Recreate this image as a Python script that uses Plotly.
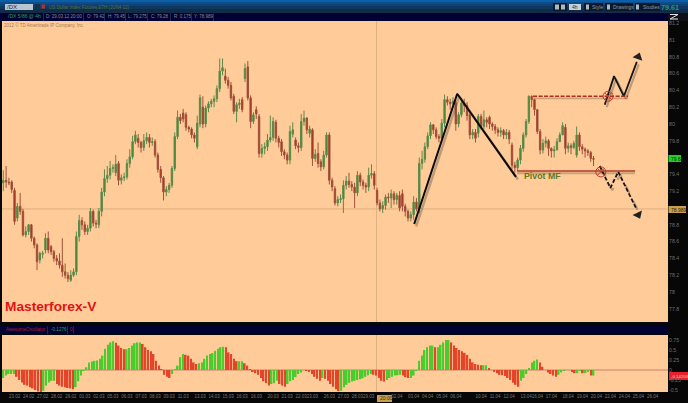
import plotly.graph_objects as go
from plotly.subplots import make_subplots

opens = [
79.30,79.33,79.31,79.31,79.21,78.88,79.02,78.96,78.68,78.72,
78.80,78.64,78.56,78.38,78.45,78.50,78.64,78.54,78.48,78.40,
78.37,78.32,78.24,78.20,78.14,78.20,78.24,78.66,78.85,78.80,
78.72,78.76,78.96,78.82,78.80,78.96,79.19,79.35,79.39,79.47,
79.42,79.53,79.33,79.36,79.37,79.53,79.61,79.79,79.83,79.78,
79.72,79.80,79.84,79.78,79.79,79.63,79.46,79.36,79.19,79.22,
79.27,79.47,79.85,80.08,80.13,80.11,79.96,79.94,79.87,79.73,
80.00,80.20,80.00,80.19,80.24,80.27,80.30,80.42,80.63,80.57,80.52,
80.46,80.33,80.15,80.23,80.29,80.54,80.68,80.31,80.03,
80.17,80.09,79.65,79.71,79.73,79.81,79.84,80.02,79.83,79.79,
79.67,79.63,79.57,79.88,79.81,79.74,79.72,80.03,80.07,
79.89,79.93,79.59,79.65,79.55,79.49,79.63,79.87,79.33,
79.23,79.06,79.10,79.11,79.27,79.32,79.28,79.25,79.18,79.39,
79.31,79.27,79.25,79.39,79.41,79.21,79.06,78.99,79.03,79.13,
79.12,79.17,79.10,79.15,79.17,79.02,78.96,78.88,78.92,79.07,
78.99,79.53,79.58,79.73,79.86,79.99,79.93,79.85,79.83,80.01,80.29,
80.26,80.24,80.25,80.00,80.11,80.25,80.22,80.11,79.87,79.90,
79.89,80.09,79.97,80.05,80.08,80.00,79.97,79.93,79.90,79.92,
79.87,79.90,79.75,79.51,79.48,79.57,79.71,79.87,80.03,80.33,
80.29,80.17,79.91,79.69,79.77,79.80,79.71,79.68,79.69,79.79,
79.87,79.96,79.71,79.74,79.72,79.63,79.87,79.73,79.70,79.68,
79.66,79.59]
highs = [
79.45,79.50,79.36,79.33,79.24,79.06,79.18,78.99,78.78,78.81,
78.81,78.66,78.58,78.48,78.49,78.70,78.72,78.56,78.50,78.44,
78.46,78.64,78.34,78.24,78.26,78.28,78.72,78.92,78.89,78.84,
78.80,79.00,78.98,78.86,79.00,79.24,79.46,79.50,79.56,79.52,
79.63,79.56,79.40,79.42,79.58,79.70,79.86,79.92,79.88,79.80,
79.88,79.90,79.88,79.84,79.82,79.66,79.50,79.38,79.26,79.30,
79.50,79.90,80.16,80.12,80.18,80.14,79.98,79.96,79.90,80.10,
80.35,80.33,80.22,80.27,80.30,80.34,80.46,80.78,80.78,80.66,80.56,
80.50,80.36,80.26,80.30,80.32,80.72,80.75,80.34,80.14,
80.21,80.12,79.76,79.78,79.88,80.10,80.08,80.05,79.86,79.82,
79.70,79.66,79.98,80.02,79.84,79.78,80.12,80.16,80.08,
79.98,79.95,79.70,79.78,79.58,79.68,79.90,79.90,79.36,
79.26,79.14,79.16,79.33,79.38,79.42,79.32,79.30,79.44,79.42,
79.34,79.30,79.48,79.52,79.44,79.24,79.10,79.08,79.16,79.18,
79.22,79.20,79.18,79.20,79.22,79.05,78.98,78.96,79.14,79.12,
79.60,79.68,79.78,79.90,80.02,80.00,79.96,79.88,80.06,80.35,80.33,
80.30,80.32,80.28,80.14,80.30,80.30,80.26,80.14,79.94,79.94,
80.12,80.12,80.16,80.08,80.10,80.02,80.00,79.96,79.96,79.94,
79.94,79.93,79.78,79.55,79.60,79.75,79.90,80.06,80.34,80.34,
80.30,80.18,79.94,79.82,79.85,79.82,79.72,79.74,79.83,79.90,
80.02,80.00,79.78,79.77,79.80,79.97,79.90,79.76,79.72,79.70,
79.68,79.62]
lows = [
79.20,79.24,79.27,79.18,78.80,78.84,78.92,78.66,78.65,78.68,
78.60,78.52,78.26,78.34,78.40,78.46,78.46,78.44,78.36,78.32,
78.28,78.18,78.16,78.12,78.12,78.18,78.20,78.60,78.74,78.68,
78.68,78.72,78.78,78.76,78.76,78.90,79.14,79.30,79.34,79.42,
79.38,79.27,79.28,79.32,79.34,79.48,79.58,79.76,79.72,79.66,
79.68,79.76,79.72,79.74,79.60,79.42,79.30,79.09,79.14,79.18,
79.24,79.44,79.82,80.00,80.02,79.92,79.90,79.83,79.78,79.70,
79.96,79.95,79.96,80.14,80.20,80.20,80.26,80.38,80.58,80.48,80.42,
80.28,80.12,80.02,80.18,80.14,80.50,80.28,79.95,80.00,
80.06,79.60,79.60,79.64,79.68,79.78,79.80,79.78,79.72,79.62,
79.58,79.52,79.52,79.84,79.70,79.66,79.68,79.98,79.88,
79.84,79.50,79.55,79.48,79.44,79.46,79.60,79.28,79.20,
79.03,79.02,79.06,78.94,79.22,79.24,79.20,79.00,79.14,79.26,
79.22,79.18,79.20,79.35,79.22,79.03,78.96,78.94,78.98,79.06,
79.00,79.04,79.04,78.96,78.96,78.90,78.84,78.84,78.86,78.96,
78.94,79.46,79.54,79.70,79.82,79.88,79.82,79.78,79.78,79.96,80.22,
80.17,80.20,79.92,79.96,80.08,80.14,80.04,79.82,79.82,79.78,
79.84,79.93,79.94,79.96,79.94,79.92,79.88,79.85,79.85,79.82,
79.82,79.76,79.46,79.42,79.44,79.52,79.67,79.84,80.00,80.20,
80.10,79.88,79.64,79.65,79.72,79.62,79.60,79.60,79.70,79.82,
79.94,79.64,79.66,79.64,79.70,79.60,79.68,79.64,79.60,79.62,
79.55,79.50]
closes = [
79.33,79.31,79.30,79.22,78.84,79.02,78.96,78.68,78.72,78.80,
78.64,78.56,78.36,78.46,78.46,78.64,78.50,78.48,78.40,78.37,
78.32,78.24,78.20,78.16,78.20,78.24,78.66,78.85,78.80,78.72,
78.76,78.96,78.82,78.81,78.96,79.19,79.35,79.39,79.47,79.48,
79.52,79.33,79.36,79.37,79.53,79.61,79.79,79.87,79.78,79.72,
79.80,79.84,79.78,79.79,79.63,79.46,79.36,79.19,79.22,79.27,
79.47,79.85,80.08,80.04,80.06,79.96,79.94,79.87,79.83,80.01,
80.31,80.00,80.19,80.24,80.27,80.30,80.42,80.63,80.67,80.52,80.46,
80.31,80.15,80.23,80.25,80.17,80.66,80.31,80.03,80.11,
80.12,79.65,79.71,79.73,79.81,79.84,80.03,79.83,79.78,79.67,
79.63,79.57,79.91,79.93,79.74,79.72,80.03,80.07,79.93,
79.94,79.59,79.64,79.53,79.49,79.63,79.87,79.33,79.25,
79.06,79.10,79.11,79.27,79.32,79.28,79.25,79.18,79.39,79.31,
79.27,79.25,79.39,79.41,79.27,79.06,78.99,79.03,79.13,79.12,
79.17,79.10,79.15,79.00,79.02,78.96,78.88,78.92,79.07,78.99,
79.53,79.58,79.73,79.86,79.99,79.93,79.85,79.83,80.01,80.29,80.26,
80.24,80.27,80.00,80.11,80.25,80.22,80.10,79.87,79.90,79.83,
80.09,79.97,80.05,80.02,80.00,79.97,79.93,79.90,79.92,79.87,
79.90,79.82,79.51,79.48,79.57,79.71,79.87,80.03,80.33,80.29,
80.17,79.91,79.69,79.77,79.80,79.71,79.68,79.69,79.79,79.87,
79.98,79.71,79.74,79.72,79.77,79.87,79.73,79.70,79.68,79.66,
79.59,79.58]
ao_values = [
-0.20,-0.14,-0.10,-0.10,-0.10,-0.17,-0.25,-0.31,-0.37,-0.39,
-0.43,-0.46,-0.50,-0.54,-0.57,-0.52,-0.39,-0.31,-0.27,-0.27,
-0.35,-0.39,-0.42,-0.43,-0.45,-0.46,-0.48,-0.43,-0.28,-0.14,
-0.02,0.07,0.19,0.21,0.23,0.24,0.28,0.36,0.53,0.63,
0.69,0.72,0.68,0.61,0.55,0.52,0.52,0.55,0.61,0.67,
0.69,0.69,0.65,0.57,0.50,0.47,0.40,0.23,0.11,0.01,
-0.12,-0.17,-0.20,-0.10,0.01,0.11,0.32,0.40,0.38,0.36,
0.28,0.19,0.15,0.17,0.19,0.28,0.36,0.40,0.42,0.48,
0.53,0.57,0.58,0.57,0.44,0.40,0.28,0.22,0.22,0.22,
0.17,0.11,0.01,-0.04,-0.08,-0.12,-0.20,-0.28,-0.33,-0.39,
-0.35,-0.33,-0.27,-0.35,-0.39,-0.42,-0.35,-0.28,-0.25,-0.18,
-0.10,-0.06,0.00,-0.01,-0.03,-0.10,-0.17,-0.22,-0.27,-0.20,
-0.22,-0.27,-0.35,-0.42,-0.48,-0.53,
-0.52,-0.43,-0.37,-0.32,-0.29,-0.27,-0.25,-0.23,-0.21,-0.17,
-0.13,-0.10,-0.12,-0.14,-0.20,-0.27,-0.29,-0.25,-0.20,-0.17,
-0.14,-0.13,-0.12,-0.14,-0.18,-0.20,-0.20,-0.14,-0.02,0.23,
0.36,0.50,0.57,0.61,0.61,0.57,0.57,0.63,0.69,0.75,
0.75,0.69,0.61,0.55,0.50,0.47,0.43,0.38,0.28,0.19,
0.15,0.13,0.12,0.12,0.12,0.05,0.00,-0.04,-0.08,-0.12,
-0.13,-0.15,-0.20,-0.25,-0.32,-0.37,-0.42,-0.27,-0.20,-0.10,
0.03,0.19,0.23,0.26,0.19,0.08,0.00,-0.06,-0.10,-0.14,
-0.17,-0.12,-0.06,-0.02,0.00,0.00,-0.04,-0.08,-0.08,-0.02,
-0.08,-0.08,-0.04,-0.14,-0.14]

tick_bars = [4,9,14,19,24,29,34,39,44,49,54,59,64,70,75,80,85,90,96,101,106,110,116,121,
             126,130,140,146,151,156,161,170,175,180,186,190,195,201,206,211,216,221,226,231]
tick_dates = ["23.02","24.02","27.02","28.02","29.02","01.03","02.03","05.03","06.03","07.03","08.03","09.03",
              "11.03","13.03","14.03","15.03","16.03","16.03","20.03","21.03","22.03","23.03","26.03","27.03",
              "28.03","29.03","02.04","03.04","04.04","05.04","06.04","10.04","11.04","12.04","13.04","16.04",
              "17.04","18.04","19.04","20.04","22.04","24.04","25.04","26.04"]
price_ticks = [77.8,78,78.2,78.4,78.6,78.8,79.2,79.4,79.8,80,80.2,80.4,80.6,80.8,81,81.2]
ao_ticks = [-0.5,-0.25,0,0.25,0.5,0.75]
ao_labels = ["-0.5","-0.25","0","0.25","0.5","0.75"]

rally_bars = [146.2,161.5,182.4]
rally_prices = [78.81,80.36,79.37]
up_bars = [214.0,217.3,220.8,225.4]
up_prices = [80.23,80.57,80.33,80.74]
down_bars = [212.2,216.0,218.8,225.4]
down_prices = [79.50,79.24,79.43,78.98]
tip_bars = [225.9,225.9]
tip_prices = [80.80,78.92]
pivot_bars = [182.8,224.8]
pivot_price = 79.44
resistance_bars = [188.5,222.3]
resistance_price = 80.33
circle_bars = [215.2,212.6]
circle_prices = [80.33,79.43]
cross_bar = 132.8
cross_price = 78.989

PEACH = "#FFCC99"
CROSS = "#DDB07E"
L, R, T, B = 2, 668, 21, 392
def fx(x): return (x - L) / (R - L)
def fy(y): return (B - y) / (B - T)

fig = make_subplots(rows=2, cols=1, shared_xaxes=True, vertical_spacing=0.03)
bars_x = list(range(len(closes)))
fig.add_trace(go.Candlestick(
    x=bars_x, open=opens, high=highs, low=lows, close=closes, whiskerwidth=0,
    increasing=dict(line=dict(color="#5C8A4A", width=1), fillcolor="#3A8A2A"),
    decreasing=dict(line=dict(color="#A0503A", width=1), fillcolor="#A82A18"),
    showlegend=False), row=1, col=1)

def line(xs, ys, color, width=2, dash="solid"):
    fig.add_trace(go.Scatter(x=xs, y=ys, mode="lines", showlegend=False,
                             line=dict(color=color, width=width, dash=dash)), row=1, col=1)

SHADOW = "rgba(95,80,65,0.40)"
line([v + 0.7 for v in rally_bars], [v - 0.03 for v in rally_prices], SHADOW, 2.5)
line([v + 0.7 for v in up_bars], [v - 0.03 for v in up_prices], SHADOW, 2.2)
line([v + 0.7 for v in down_bars], [v - 0.03 for v in down_prices], SHADOW, 2.2, "dash")
line(pivot_bars, [pivot_price - 0.025] * 2, "rgba(110,80,60,0.35)", 2)
line(resistance_bars, [resistance_price - 0.025] * 2, "rgba(110,80,60,0.35)", 1.6)
line(rally_bars, rally_prices, "#0A0A0A", 2)
line(up_bars, up_prices, "#151515", 1.8)
line(down_bars, down_prices, "#151515", 1.8, "4px,2px")
line(pivot_bars, [pivot_price] * 2, "#B23A2C", 1.6)
line(resistance_bars, [resistance_price] * 2, "#A8301F", 1.3, "4px,1.5px")
fig.add_trace(go.Scatter(x=tip_bars, y=tip_prices, mode="markers", showlegend=False,
    marker=dict(symbol="triangle-up", size=9, color="#222222", angle=[20, 155])), row=1, col=1)
fig.add_trace(go.Scatter(x=circle_bars, y=circle_prices, mode="markers", showlegend=False,
    marker=dict(symbol="circle-x-open", size=10, color="#C03A2C", line=dict(width=1, color="#C03A2C"))), row=1, col=1)

ao_colors = ["#4BCB2E" if i == 0 or ao_values[i] >= ao_values[i - 1] else "#E2452A" for i in range(len(ao_values))]
ao_step = (len(closes) - 1) / (len(ao_values) - 1)   # the oscillator's bars span the same sessions as the candles
fig.add_trace(go.Bar(x=[i * ao_step for i in range(len(ao_values))], y=ao_values,
                     marker=dict(color=ao_colors, line=dict(width=0)),
                     width=0.58, showlegend=False), row=2, col=1)

xa = dict(range=[-0.46, 236.5], showgrid=False, zeroline=False, showline=False, ticks="")
fig.update_xaxes(**xa)
fig.update_xaxes(showticklabels=False, row=1, col=1, rangeslider=dict(visible=False))
fig.update_xaxes(row=2, col=1, showticklabels=True, tickmode="array", tickvals=tick_bars, ticktext=tick_dates,
                 tickangle=0, tickfont=dict(size=4.5, color="#777777", family="Liberation Sans"))
fig.update_yaxes(row=1, col=1, domain=[fy(322), 1], range=[77.643, 81.226], side="right", showgrid=False,
                 zeroline=False, tickmode="array", tickvals=price_ticks, ticktext=[str(v) for v in price_ticks],
                 tickfont=dict(size=5.2, color="#6E6E6E", family="Liberation Sans"))
fig.update_yaxes(row=2, col=1, domain=[0, fy(335)], range=[-0.55, 0.875], side="right", showgrid=False,
                 zeroline=False, tickmode="array", tickvals=ao_ticks, ticktext=ao_labels,
                 tickfont=dict(size=5.2, color="#6E6E6E", family="Liberation Sans"))

shapes = []
def rect(x0, y0, x1, y1, color):
    shapes.append(dict(type="rect", xref="paper", yref="paper", x0=fx(x0), x1=fx(x1), y0=fy(y0), y1=fy(y1),
                       fillcolor=color, line=dict(width=0), layer="below"))
for y0, y1, c in [(0,2,"#0B5EA8"),(2,4,"#0C4E8C"),(4,6,"#0D4274"),(6,9,"#0F3860"),(9,13,"#122C48")]:
    rect(0, y0, 688, y1, c)
rect(0, 13, 668, 21, "#000033")
rect(668, 13, 688, 21, "#101018")
rect(0, 325, 668, 334, "#000033")
rect(5, 4, 33, 10, "#B8C4D0")
rect(35, 4, 40, 10, "#1A3046")
rect(41.5, 4.5, 45, 8.5, "#B03030")
for x0, x1 in [(553,567),(584,603),(605,633),(635,660)]:
    rect(x0, 3, x1, 11, "#0A1A2C")
rect(569, 4, 581, 10, "#C8D0D8")
for x0, x1 in [(555,559),(561,565),(586,589),(607,610),(636,639)]:
    rect(x0, 4.5, x1, 9.5, "#AEB8C2")
for x in [43,83,104,125,147,170,191,213]:
    rect(x, 13, x + 0.6, 21, "#334466")
for x in [47,67,73]:
    rect(x, 326, x + 0.6, 334, "#334466")
for a, b, c, d in [(670,14.5,678,14.5),(678,14.5,670,19),(670,19,678,19)]:
    shapes.append(dict(type="line", xref="paper", yref="paper", x0=fx(a), y0=fy(b), x1=fx(c), y1=fy(d),
                       line=dict(color="#E0E0E0", width=1)))
shapes.append(dict(type="line", xref="x", yref="y", x0=cross_bar, x1=cross_bar, y0=77.643, y1=81.226,
                   line=dict(color=CROSS, width=1), layer="below"))
shapes.append(dict(type="line", xref="x", yref="y", x0=-0.46, x1=236.5, y0=cross_price, y1=cross_price,
                   line=dict(color=CROSS, width=1), layer="below"))
shapes.append(dict(type="line", xref="x2", yref="y2", x0=cross_bar, x1=cross_bar, y0=-0.55, y1=0.875,
                   line=dict(color=CROSS, width=1), layer="below"))
shapes.append(dict(type="line", xref="x2", yref="y2", x0=-0.46, x1=236.5, y0=0, y1=0,
                   line=dict(color="#C8806A", width=1), layer="below"))
rect(668.5, 155, 681, 162, "#22D022")
rect(668.5, 206, 686, 213, "#C8A050")
rect(669, 372, 688, 380, "#E8202A")
rect(377, 395, 392, 402, "#C8A050")

anns = []
def text(x, y, s, size=6, color="#777777", anchor="left", bold=False):
    anns.append(dict(xref="paper", yref="paper", x=fx(x), y=fy(y), text=f"<b>{s}</b>" if bold else s,
                     showarrow=False, xanchor=anchor, yanchor="middle",
                     font=dict(size=size, color=color, family="Liberation Sans"), borderpad=0))
text(6, 7, "/DX", 6, "#1A2A40")
text(48, 7, "US Dollar Index Futures,ETH (JUN4 12)", 4.5, "#5E6E3A")
text(7, 16.5, "/DX 5/86 @ 4h", 5, "#2EA05A")
for x, s in [(45,"D: 29.03.12 20:00"),(86,"O: 79.42"),(107,"H: 79.45"),(127,"L: 79.275"),(150,"C: 79.28"),
             (173,"R: 0.175"),(193,"Y: 78.989")]:
    text(x, 16.5, s, 4.5, "#8A8A98")
text(3, 25, "2012 © TD Ameritrade IP Company, Inc.", 4.5, "#A87C50")
text(575, 7, "4h", 5, "#203040", "center")
text(591, 7, "Style", 5, "#8A98A8")
text(612, 7, "Drawings", 5, "#8A98A8")
text(642, 7, "Studies", 5, "#8A98A8")
text(680, 7, "79.61", 7.2, "#1E9C6C", "right", True)
text(4, 306.5, "Masterforex-V", 13.7, "#DD1515", bold=True)
text(523, 175.5, "Pivot MF", 8.8, "#5E7A22", bold=True)
text(5, 329.5, "AwesomeOscillator", 4.6, "#A82040")
text(50, 329.5, "-0.1276", 4.6, "#2EA05A")
text(69, 329.5, "0", 4.6, "#A82040")
text(670, 158.5, "79.6", 5, "#0A2A0A")
text(669.5, 209.5, "78.989", 5, "#2A2008")
text(670, 376, "-0.14209", 4.4, "#F0D0D0")
text(379, 398.5, "20:00", 5, "#3A2A08")

fig.update_layout(width=688, height=403, margin=dict(l=L, r=688 - R, t=T, b=403 - B),
                  paper_bgcolor="#070707", plot_bgcolor=PEACH, shapes=shapes, annotations=anns,
                  bargap=0.3, showlegend=False, autosize=False)
fig.write_html("out.html", config={"displayModeBar": False},
               post_script="document.body.style.margin='0';document.body.style.overflow='hidden';document.documentElement.style.background='#070707';")
